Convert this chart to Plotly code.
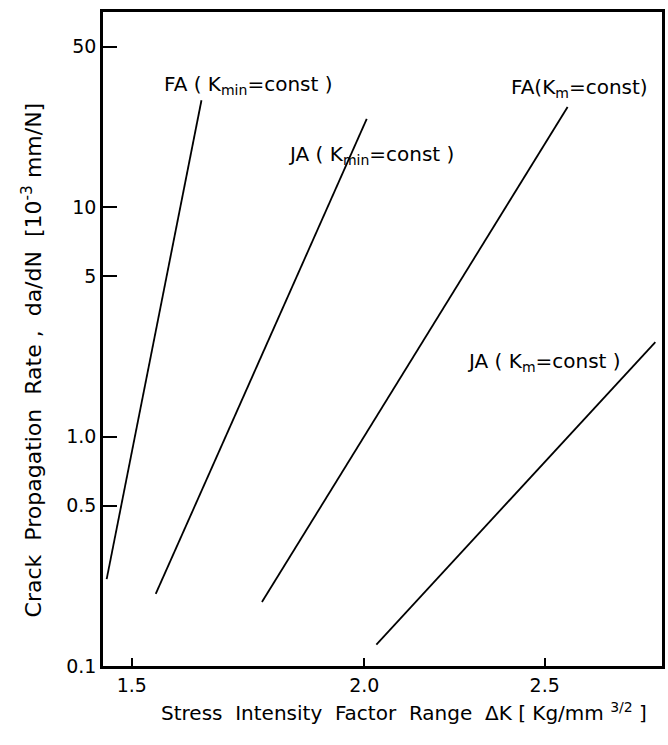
import plotly.graph_objects as go

# Fitted crack growth lines (end points of each da/dN - dK line)
fa_kmin_dk = [1.454, 1.635]
fa_kmin_rate = [0.239, 29.2]
ja_kmin_dk = [1.545, 2.006]
ja_kmin_rate = [0.206, 24.2]
fa_km_dk = [1.762, 2.572]
fa_km_rate = [0.190, 27.3]
ja_km_dk = [2.030, 2.867]
ja_km_rate = [0.124, 2.58]

series = [
    ("FA(Kmin=const)", fa_kmin_dk, fa_kmin_rate),
    ("JA(Kmin=const)", ja_kmin_dk, ja_kmin_rate),
    ("FA(Km=const)", fa_km_dk, fa_km_rate),
    ("JA(Km=const)", ja_km_dk, ja_km_rate),
]

x_ticks = [1.5, 2.0, 2.5]
x_tick_text = ["1.5", "2.0", "2.5"]
y_ticks = [0.1, 0.5, 1.0, 5, 10, 50]
y_tick_text = ["0.1", "0.5", "1.0", "5", "10", "50"]

FONT = "DejaVu Sans"

fig = go.Figure()
for name, xs, ys in series:
    fig.add_trace(go.Scatter(
        x=xs, y=ys, mode="lines", name=name,
        line=dict(color="black", width=1.8),
        showlegend=False, hoverinfo="skip",
    ))

# Curve labels (paper coordinates within the plot frame)
labels = [
    ("FA ( K<sub>min</sub>=const )", 0.105, 0.888),
    ("JA ( K<sub>min</sub>=const )", 0.328, 0.782),
    ("FA(K<sub>m</sub>=const)", 0.727, 0.884),
    ("JA ( K<sub>m</sub>=const )", 0.648, 0.465),
]
for text, px, py in labels:
    fig.add_annotation(
        x=px, y=py, xref="paper", yref="paper", text=text,
        showarrow=False, xanchor="left", yanchor="middle",
        font=dict(family=FONT, size=20, color="black"),
    )

# Axis titles
fig.add_annotation(
    x=0.538, y=-0.07, xref="paper", yref="paper",
    text="Stress  Intensity  Factor  Range  ΔK [ Kg/mm <sup>3/2</sup> ]",
    showarrow=False, xanchor="center", yanchor="middle",
    font=dict(family=FONT, size=20, color="black"),
)
fig.add_annotation(
    x=-0.128, y=0.468, xref="paper", yref="paper", textangle=-90,
    text="Crack  Propagation  Rate ,  da/dN  [10<sup>-3</sup> mm/N]",
    showarrow=False, xanchor="center", yanchor="middle",
    font=dict(family=FONT, size=22, color="black"),
)

fig.update_xaxes(
    type="log", range=[0.1606, 0.4610],
    tickvals=x_ticks, ticktext=x_tick_text,
    ticks="inside", ticklen=8, tickwidth=1.5, tickcolor="black",
    showline=True, linecolor="black", linewidth=2.5, mirror=True,
    showgrid=False, zeroline=False,
    tickfont=dict(family=FONT, size=19, color="black"),
)
fig.update_yaxes(
    type="log", range=[-1.0, 1.85],
    tickvals=y_ticks, ticktext=y_tick_text,
    ticks="inside", ticklen=14, tickwidth=1.5, tickcolor="black",
    showline=True, linecolor="black", linewidth=2.5, mirror=True,
    showgrid=False, zeroline=False,
    tickfont=dict(family=FONT, size=19, color="black"),
)

fig.update_layout(
    width=668, height=745,
    margin=dict(l=103, r=3, t=12, b=79),
    paper_bgcolor="white", plot_bgcolor="white",
    font=dict(family=FONT, color="black"),
)

fig.write_html("out.html")
